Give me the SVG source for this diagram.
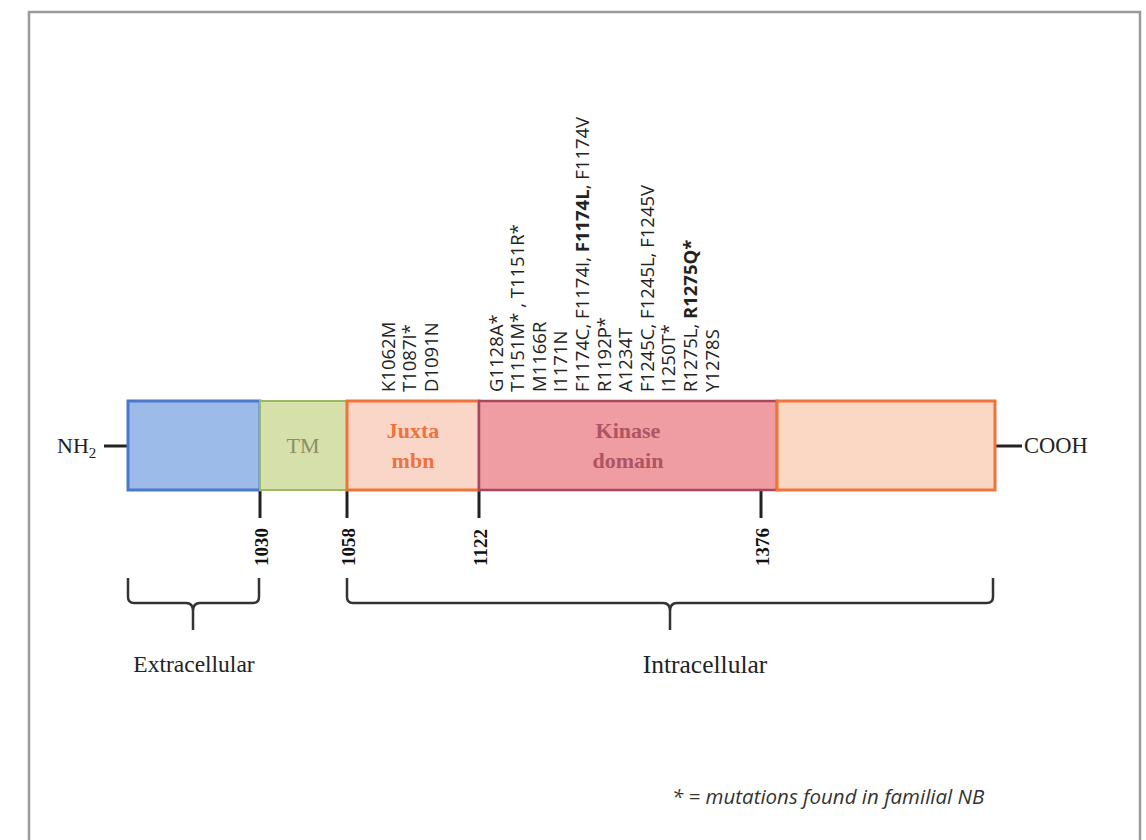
<svg xmlns="http://www.w3.org/2000/svg" width="1146" height="840" viewBox="0 0 1146 840">
<style>
.mut{font-family:"Open Sans","Liberation Sans",sans-serif;font-size:18.5px;fill:#222}
.b{font-weight:bold}
.num{font-family:"Liberation Serif",serif;font-size:19px;font-weight:bold;fill:#111}
.serif{font-family:"Liberation Serif",serif}
.dark{fill:#222}
.dom{font-family:"Liberation Serif",serif;font-size:22px;font-weight:bold;text-anchor:middle}
.ln{stroke:#222;stroke-width:3;fill:none}
.brace{stroke:#333;stroke-width:2.5;fill:none;stroke-linejoin:round}
</style>
<rect x="0" y="0" width="1146" height="840" fill="#ffffff"/>
<path d="M29,860 V12 H1140 V860" fill="none" stroke="#9a9a9a" stroke-width="2.5"/>

<g id="connectors">
  <line class="ln" x1="104" y1="446" x2="128" y2="446"/>
  <line class="ln" x1="995" y1="446" x2="1022" y2="446"/>
  <line class="ln" x1="260" y1="490" x2="260" y2="518"/>
  <line class="ln" x1="347" y1="490" x2="347" y2="518"/>
  <line class="ln" x1="479" y1="490" x2="479" y2="518"/>
  <line class="ln" x1="761" y1="490" x2="761" y2="518"/>
</g>

<g id="extracellular-domain">
  <rect x="128" y="401" width="132" height="89" fill="#9dbbe9" stroke="#4a79cc" stroke-width="3"/>
</g>
<g id="tm-domain">
  <rect x="260" y="401" width="87" height="89" fill="#d5e0aa" stroke="#9cb860" stroke-width="2"/>
  <text class="serif" x="303" y="453" font-size="22" text-anchor="middle" style="fill:#8a8e66">TM</text>
</g>
<g id="juxta-domain">
  <rect x="347" y="401" width="132" height="89" fill="#fad6c8" stroke="#f0743a" stroke-width="3"/>
  <text class="dom" x="413" y="438" style="fill:#ea7440">Juxta</text>
  <text class="dom" x="413" y="468" style="fill:#ea7440">mbn</text>
</g>
<g id="kinase-domain">
  <rect x="479" y="401" width="298" height="89" fill="#ef9ca3" stroke="#a8485a" stroke-width="2.5"/>
  <text class="dom" x="628" y="438" style="fill:#ad5562">Kinase</text>
  <text class="dom" x="628" y="468" style="fill:#ad5562">domain</text>
</g>
<g id="c-terminal-domain">
  <rect x="777" y="401" width="218" height="89" fill="#fbd8c4" stroke="#f0743a" stroke-width="3"/>
</g>

<g id="termini">
  <text class="serif dark" x="57" y="453" font-size="22">NH<tspan font-size="15" dy="5">2</tspan></text>
  <text class="serif dark" x="1024" y="453" font-size="22.5">COOH</text>
</g>

<g id="positions">
  <text class="num" transform="translate(267.5,566) rotate(-90)">1030</text>
  <text class="num" transform="translate(354.5,566) rotate(-90)">1058</text>
  <text class="num" transform="translate(486.5,566) rotate(-90)">1122</text>
  <text class="num" transform="translate(768.5,566) rotate(-90)">1376</text>
</g>

<g id="mutations">
  <text class="mut" transform="translate(394.5,392) rotate(-90)">K1062M</text>
  <text class="mut" transform="translate(416,392) rotate(-90)">T1087I*</text>
  <text class="mut" transform="translate(437.5,392) rotate(-90)">D1091N</text>
  <text class="mut" transform="translate(502.5,392) rotate(-90)">G1128A*</text>
  <text class="mut" transform="translate(524,392) rotate(-90)">T1151M* , T1151R*</text>
  <text class="mut" transform="translate(545.5,392) rotate(-90)">M1166R</text>
  <text class="mut" transform="translate(567,392) rotate(-90)">I1171N</text>
  <text class="mut" transform="translate(589,392) rotate(-90)">F1174C, F1174I, <tspan class="b">F1174L</tspan>, F1174V</text>
  <text class="mut" transform="translate(610.5,392) rotate(-90)">R1192P*</text>
  <text class="mut" transform="translate(632,392) rotate(-90)">A1234T</text>
  <text class="mut" transform="translate(653.5,392) rotate(-90)">F1245C, F1245L, F1245V</text>
  <text class="mut" transform="translate(675,392) rotate(-90)">I1250T*</text>
  <text class="mut" transform="translate(697,392) rotate(-90)">R1275L, <tspan class="b">R1275Q*</tspan></text>
  <text class="mut" transform="translate(718.5,392) rotate(-90)">Y1278S</text>
</g>

<g id="extracellular-brace">
  <path class="brace" d="M128,578 V597 Q128,603 134,603 H186 Q193,603 193,611 V630 M193,611 Q193,603 200,603 H253 Q259,603 259,597 V578"/>
  <text class="serif dark" x="194" y="672" font-size="23.5" text-anchor="middle">Extracellular</text>
</g>
<g id="intracellular-brace">
  <path class="brace" d="M347,578 V597 Q347,603 353,603 H663 Q670,603 670,611 V630 M670,611 Q670,603 677,603 H987 Q993,603 993,597 V578"/>
  <text class="serif dark" x="705" y="673" font-size="25.5" text-anchor="middle">Intracellular</text>
</g>

<g id="footnote">
  <text x="672" y="804" font-family="'Open Sans','Liberation Sans',sans-serif" font-style="italic" font-size="20.5" fill="#333">* = mutations found in familial NB</text>
</g>
</svg>
